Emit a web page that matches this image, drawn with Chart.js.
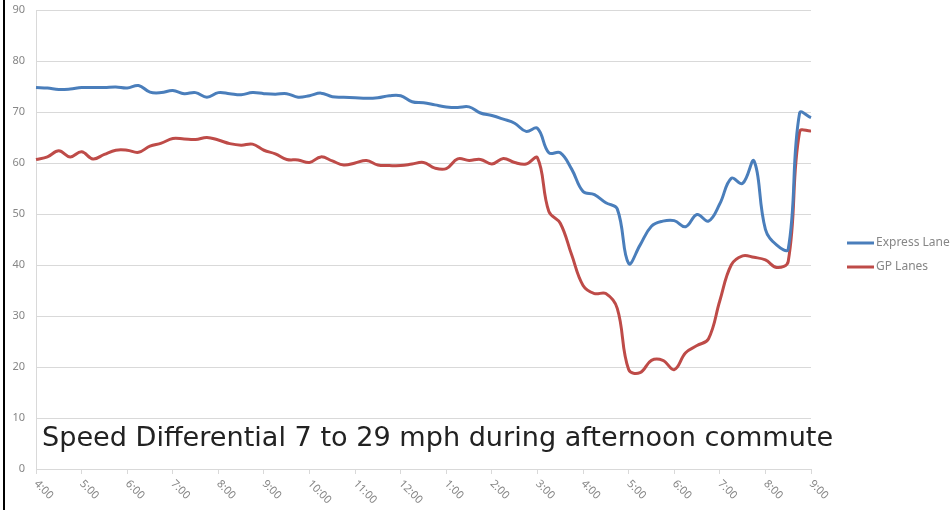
<!DOCTYPE html>
<html lang="en">
<head>
  <meta charset="UTF-8" />
  <title>Express Lane vs GP Lanes speed</title>
  <script src="https://cdn.jsdelivr.net/npm/chart.js"></script>
  <style>
    body { margin: 0; background: #fff; }
    #wrap { position: relative; width: 952px; height: 510px; }
  </style>
</head>
<body>

<div id="wrap"><canvas id="speedChart"></canvas></div>

<script>
  // hour ticks, 4:00 AM to 9:00 PM
  const hourLabels = ["4:00", "5:00", "6:00", "7:00", "8:00", "9:00", "10:00", "11:00", "12:00",
                      "1:00", "2:00", "3:00", "4:00", "5:00", "6:00", "7:00", "8:00", "9:00"];

  // samples every 15 minutes
  const times = [];
  hourLabels.forEach((h, i) => {
    times.push(h);
    if (i < hourLabels.length - 1) {
      const hh = h.split(":")[0];
      times.push(hh + ":15", hh + ":30", hh + ":45");
    }
  });

  const expressLane = [
    74.8, 74.7, 74.4, 74.5, 74.8, 74.8, 74.8, 74.9, 74.7, 75.2,
    73.9, 73.8, 74.2, 73.6, 73.8, 72.9, 73.8, 73.6, 73.4, 73.8,
    73.6, 73.5, 73.6, 72.9, 73.2, 73.7, 73.0, 72.9, 72.8, 72.7,
    72.8, 73.2, 73.2, 72.0, 71.8, 71.4, 71.0, 70.9, 71.0, 69.8,
    69.3, 68.6, 67.8, 66.2, 66.8, 62.0, 62.0, 58.8, 54.4, 53.8,
    52.2, 51.0, 40.3, 43.9, 47.6, 48.6, 48.7, 47.5, 49.9, 48.6,
    52.0, 57.0, 56.0, 60.4, 47.0, 43.9, 43.1, 69.8, 68.9
  ];

  const gpLanes = [
    60.7, 61.2, 62.4, 61.2, 62.2, 60.8, 61.7, 62.5, 62.5, 62.1,
    63.3, 63.9, 64.8, 64.7, 64.6, 65.0, 64.5, 63.8, 63.5, 63.7,
    62.5, 61.8, 60.7, 60.6, 60.1, 61.2, 60.4, 59.6, 60.0, 60.5,
    59.6, 59.5, 59.5, 59.8, 60.1, 59.0, 58.9, 60.8, 60.5, 60.7,
    59.8, 60.9, 60.1, 59.8, 61.0, 50.5, 48.2, 42.0, 36.0, 34.4,
    34.4, 31.5, 19.5, 18.9, 21.3, 21.3, 19.5, 22.8, 24.2, 25.5,
    33.0, 40.0, 41.8, 41.5, 41.0, 39.5, 40.7, 66.1, 66.3
  ];

  const caption = "Speed Differential 7 to 29 mph during afternoon commute";
  const tickGrey = "#868686";
  const gridGrey = "#d9d9d9";

  // hour labels (turned down-right), legend, caption and the page edge line
  const overlay = {
    id: "overlay",
    afterDraw(chart) {
      const ctx = chart.ctx;
      const xs = chart.scales.x;
      ctx.save();

      ctx.fillStyle = tickGrey;
      ctx.font = '11px "Noto Sans"';
      ctx.textAlign = "left";
      ctx.textBaseline = "middle";
      times.forEach((t, i) => {
        if (i % 4) return;
        ctx.save();
        ctx.translate(xs.getPixelForValue(i), xs.top + 13);
        ctx.rotate(Math.PI / 4);
        ctx.fillText(t, 0, 0);
        ctx.restore();
      });

      // legend
      ctx.font = '12px "Noto Sans"';
      ctx.lineWidth = 3;
      chart.data.datasets.forEach((ds, i) => {
        const y = 243 + i * 24;
        ctx.strokeStyle = ds.borderColor;
        ctx.beginPath();
        ctx.moveTo(847, y);
        ctx.lineTo(874, y);
        ctx.stroke();
        ctx.fillStyle = tickGrey;
        ctx.fillText(ds.label, 876, y);
      });

      // caption across the bottom of the plot
      let size = 26;
      ctx.font = size + 'px "DejaVu Sans"';
      size = size * 790 / ctx.measureText(caption).width;
      ctx.font = size.toFixed(1) + 'px "DejaVu Sans"';
      ctx.fillStyle = "#222";
      ctx.textBaseline = "alphabetic";
      ctx.fillText(caption, 42, 446);

      ctx.fillStyle = "#000";
      ctx.fillRect(3, 0, 2, chart.height);
      ctx.restore();
    }
  };

  new Chart(document.getElementById("speedChart"), {
    type: "line",
    data: {
      labels: times,
      datasets: [
        { label: "Express Lane", data: expressLane, borderColor: "#4a7ebb", borderWidth: 3, pointRadius: 0, tension: 0.4 },
        { label: "GP Lanes", data: gpLanes, borderColor: "#be4b48", borderWidth: 3, pointRadius: 0, tension: 0.4 }
      ]
    },
    options: {
      responsive: true,
      maintainAspectRatio: false,
      animation: false,
      layout: { padding: { top: 10, right: 141, left: 0, bottom: 0 } },
      plugins: { legend: { display: false }, tooltip: { enabled: false } },
      scales: {
        x: {
          ticks: { display: false, autoSkip: false },
          grid: {
            drawOnChartArea: false,
            tickLength: 5,
            tickColor: c => c.index % 4 === 0 ? gridGrey : "rgba(0,0,0,0)"
          },
          border: { color: gridGrey },
          afterFit: s => { s.height = 41; }
        },
        y: {
          min: 0,
          max: 90,
          ticks: { stepSize: 10, color: tickGrey, font: { size: 11, family: "Noto Sans" }, padding: 11 },
          grid: { color: gridGrey, drawTicks: false },
          border: { color: gridGrey },
          afterFit: s => { s.width = 36; s.paddingTop = 0; s.paddingBottom = 0; }
        }
      }
    },
    plugins: [overlay]
  });
</script>

</body>
</html>
